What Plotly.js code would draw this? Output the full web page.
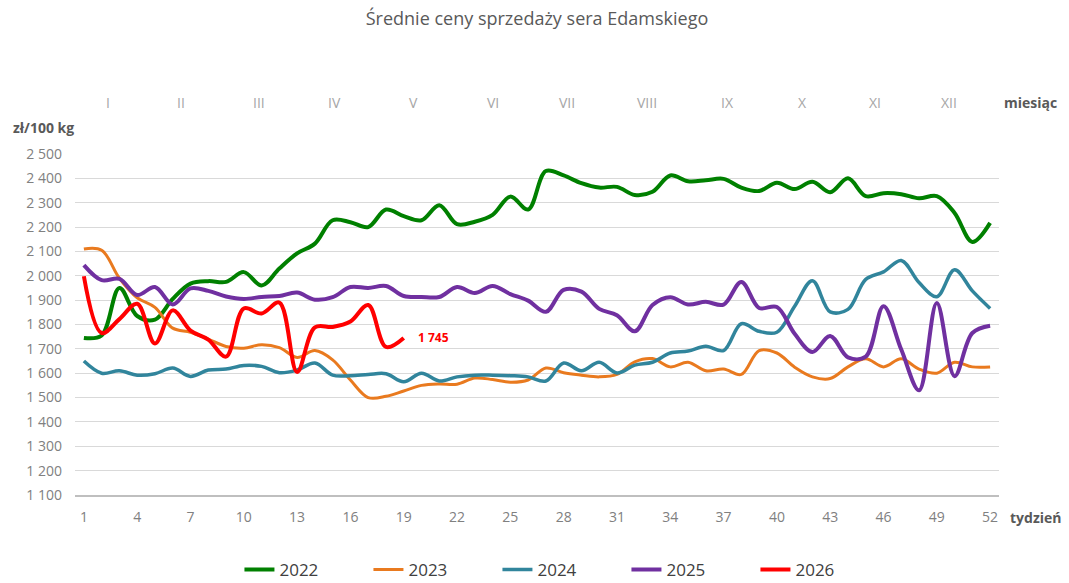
<!DOCTYPE html>
<html>
<head>
<meta charset="utf-8">
<script src="https://cdn.plot.ly/plotly-3.0.1.min.js"></script>
<style>html,body{margin:0;padding:0;background:#fff;}#chart{width:1069px;height:583px;}</style>
</head>
<body>
<div id="chart"></div>
<script>
const weeks = Array.from({length: 52}, (_, i) => i + 1);
const tickWeeks = [1,4,7,10,13,16,19,22,25,28,31,34,37,40,43,46,49,52];
const yTicks = [1100,1200,1300,1400,1500,1600,1700,1800,1900,2000,2100,2200,2300,2400,2500];
const monthLabels = ["I","II","III","IV","V","VI","VII","VIII","IX","X","XI","XII"];
const monthPos = [2.35,6.45,10.84,15.12,19.56,24.0,28.17,32.67,37.2,41.44,45.54,49.7];

const years = ["2022","2023","2024","2025","2026"];
const v2022 = [1745,1755,1950,1835,1820,1905,1968,1978,1975,2015,1960,2030,2092,2132,2228,2220,2200,2272,2245,2228,2290,2212,2222,2250,2325,2272,2430,2412,2380,2362,2365,2332,2345,2412,2388,2392,2398,2362,2348,2382,2356,2386,2343,2400,2327,2339,2335,2318,2327,2258,2139,2217];
const v2023 = [2110,2105,1990,1910,1870,1785,1768,1740,1710,1703,1717,1705,1665,1693,1655,1572,1500,1505,1527,1550,1556,1555,1580,1574,1563,1572,1621,1602,1592,1585,1595,1647,1660,1626,1645,1610,1617,1595,1693,1683,1625,1585,1578,1626,1659,1626,1659,1617,1600,1645,1626,1626];
const v2024 = [1650,1600,1610,1592,1598,1621,1587,1613,1617,1632,1628,1602,1613,1642,1592,1590,1595,1598,1565,1600,1568,1585,1592,1592,1590,1585,1568,1642,1610,1645,1601,1633,1645,1683,1691,1711,1693,1803,1772,1768,1875,1980,1852,1862,1985,2016,2063,1972,1914,2025,1938,1866];
const v2025 = [2044,1982,1987,1921,1954,1882,1948,1938,1915,1905,1913,1917,1931,1902,1912,1954,1950,1958,1917,1913,1913,1954,1929,1958,1925,1898,1852,1942,1935,1864,1838,1772,1880,1912,1882,1893,1882,1975,1868,1872,1762,1687,1753,1665,1668,1875,1697,1530,1888,1588,1765,1795];
const v2026 = [1998,1765,1822,1885,1722,1858,1775,1738,1668,1866,1845,1890,1605,1788,1790,1812,1880,1708,1745];

const colors = ["#008000","#E97A1F","#31859C","#7030A0","#FF0000"];
const widths = [4,3,3.5,4,4];
const series = [v2022, v2023, v2024, v2025, v2026];

const fmt = v => String(v).replace(/\B(?=(\d{3})+(?!\d))/g, " ");
const FONT = "Open Sans, Lato, sans-serif";

const traces = series.map((vals, i) => ({
  x: weeks.slice(0, vals.length),
  y: vals,
  name: years[i],
  type: "scatter",
  mode: "lines",
  line: {color: colors[i], width: widths[i], shape: "spline", smoothing: 1},
  hoverinfo: "x+y+name"
}));

const annotations = monthLabels.map((m, i) => ({
  x: monthPos[i], xref: "x", y: 1.15, yref: "paper",
  text: m, showarrow: false, xanchor: "center", yanchor: "middle",
  font: {family: FONT, size: 14, color: "#a6a6a6"}
}));
annotations.push({
  x: 1.034, xref: "paper", y: 1.15, yref: "paper", text: "<b>miesiąc</b>",
  showarrow: false, xanchor: "center", yanchor: "middle",
  font: {family: FONT, size: 14, color: "#595959"}
});
annotations.push({
  x: 1.04, xref: "paper", y: -0.065, yref: "paper", text: "<b>tydzień</b>",
  showarrow: false, xanchor: "center", yanchor: "middle",
  font: {family: FONT, size: 14, color: "#595959"}
});
annotations.push({
  x: -0.034, xref: "paper", y: 1.079, yref: "paper", text: "<b>zł/100 kg</b>",
  showarrow: false, xanchor: "center", yanchor: "middle",
  font: {family: FONT, size: 14, color: "#595959"}
});
const last2026 = v2026[v2026.length - 1];
annotations.push({
  x: v2026.length, xref: "x", y: last2026, yref: "y", text: "<b>" + fmt(last2026) + "</b>",
  showarrow: false, xanchor: "left", yanchor: "middle", xshift: 12,
  font: {family: FONT, size: 12, color: "#FF0000"}
});

const layout = {
  width: 1069, height: 583,
  margin: {l: 75, r: 70, t: 154, b: 88, autoexpand: false},
  paper_bgcolor: "#ffffff", plot_bgcolor: "#ffffff",
  font: {family: FONT, color: "#595959"},
  title: {text: "Średnie ceny sprzedaży sera Edamskiego", x: 0.5, xref: "paper", xanchor: "center", y: 0.968, yanchor: "middle",
          font: {family: FONT, size: 18, color: "#595959"}},
  xaxis: {
    range: [0.5, 52.5], tickmode: "array", tickvals: tickWeeks, ticktext: tickWeeks.map(String),
    showgrid: false, zeroline: false, showline: true, linecolor: "#bfbfbf", linewidth: 2,
    ticks: "", ticklabelstandoff: 8,
    tickfont: {family: FONT, size: 14, color: "#808080"}
  },
  yaxis: {
    range: [1100, 2500], tickmode: "array", tickvals: yTicks, ticktext: yTicks.map(fmt),
    showgrid: true, gridcolor: "#d9d9d9", gridwidth: 1, zeroline: false, showline: false,
    ticks: "", ticklabelstandoff: 12,
    tickfont: {family: FONT, size: 14, color: "#808080"}
  },
  showlegend: true,
  legend: {orientation: "h", x: 0.527, xanchor: "center", y: -0.22, yanchor: "middle",
           font: {family: FONT, size: 17, color: "#404040"},
           entrywidth: 84, itemwidth: 30, bgcolor: "rgba(0,0,0,0)"},
  annotations: annotations
};

Plotly.newPlot("chart", traces, layout, {displayModeBar: false, staticPlot: true});
</script>
</body>
</html>
